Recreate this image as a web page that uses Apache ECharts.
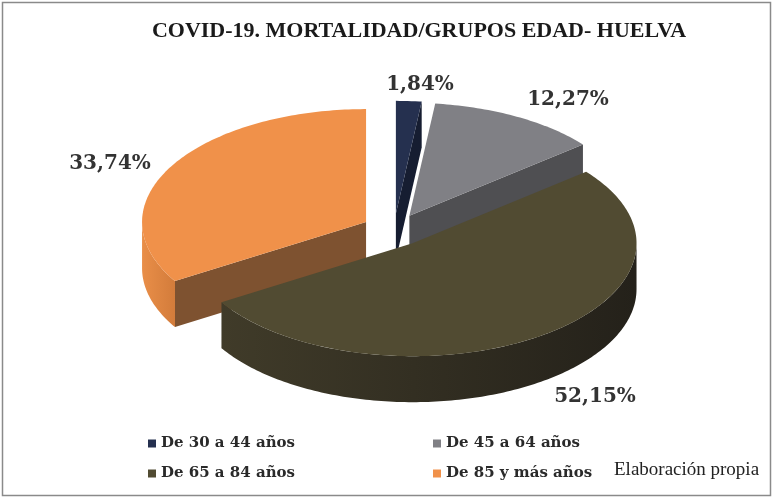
<!DOCTYPE html>
<html>
<head>
<meta charset="utf-8">
<script src="https://cdn.jsdelivr.net/npm/echarts@6/dist/echarts.min.js"></script>
<style>
  html, body { margin: 0; padding: 0; background: #fff; }
  #main { width: 774px; height: 501px; }
</style>
</head>
<body>
<div id="main"></div>
<script>
// datos
var categories = ['De 30 a 44 años', 'De 45 a 64 años', 'De 65 a 84 años', 'De 85 y más años'];
var values = [1.84, 12.27, 52.15, 33.74];

// colores: cara superior, paredes
var topColors = ['#25304f', '#808085', '#514b32', '#f0914a'];
var cutColors = ['#161d31', '#4f4f52', '#2f2b1d', '#7e5230'];
var wallColors = [['#1c2540', '#141a2d'], ['#5a5a5e', '#444447'], ['#403b29', '#24211a'], ['#e98e48', '#d37c3b']];
// posicion de las etiquetas (px)
var labelPos = [[420, 85], [568, 100], [595, 397], [110, 164]];

// geometria de la tarta 3D
var cx = 394, cy = 230, R = 224, r = 113, h = 46, explode = 0.143;
var drawOrder = [0, 1, 3, 2];

var total = values.reduce(function (s, v) { return s + v; }, 0);
var angles = [];
var acc = 0;
values.forEach(function (v) {
    angles.push([acc / total * 360, (acc + v) / total * 360]);
    acc += v;
});

function pt(deg, rho, off, dz) {
    var t = deg * Math.PI / 180;
    return [cx + off[0] + rho * R * Math.sin(t), cy + off[1] - rho * r * Math.cos(t) + dz];
}
function arc(a, b, off, dz) {
    var pts = [];
    for (var d = a; d < b; d += 1) pts.push(pt(d, 1, off, dz));
    pts.push(pt(b, 1, off, dz));
    return pts;
}

function makeRender(i) {
    return function (params, api) {
        var a = angles[i][0], b = angles[i][1];
        var mid = (a + b) / 2 * Math.PI / 180;
        var off = [explode * R * Math.sin(mid), -explode * r * Math.cos(mid)];
        var apex = pt(0, 0, off, 0);
        var apexB = pt(0, 0, off, h);
        var children = [];
        // cara de corte inicial
        if (Math.sin(a * Math.PI / 180) < -0.01) {
            var e1 = pt(a, 1, off, 0);
            children.push({ type: 'polygon', shape: { points: [apex, e1, [e1[0], e1[1] + h], apexB] },
                style: { fill: cutColors[i] } });
        }
        // cara de corte final
        if (Math.sin(b * Math.PI / 180) > 0.01) {
            var e2 = pt(b, 1, off, 0);
            children.push({ type: 'polygon', shape: { points: [apex, e2, [e2[0], e2[1] + h], apexB] },
                style: { fill: cutColors[i] } });
        }
        // pared exterior visible
        var wa = Math.max(a, 90), wb = Math.min(b, 270);
        if (wb > wa) {
            var top = arc(wa, wb, off, 0);
            var bot = arc(wa, wb, off, h).reverse();
            children.push({ type: 'polygon', shape: { points: top.concat(bot) },
                style: { fill: new echarts.graphic.LinearGradient(0, 0, 1, 0, [
                    { offset: 0, color: wallColors[i][0] }, { offset: 1, color: wallColors[i][1] }]) } });
        }
        // cara superior
        children.push({ type: 'polygon', shape: { points: [apex].concat(arc(a, b, off, 0)) },
            style: { fill: topColors[i] } });
        // etiqueta
        children.push({ type: 'text', z2: 10, style: {
            text: values[i].toFixed(2).replace('.', ',') + '%',
            x: labelPos[i][0], y: labelPos[i][1], align: 'center', verticalAlign: 'middle',
            fill: '#333', font: 'bold 20px "DejaVu Serif"' } });
        return { type: 'group', children: children };
    };
}

var chart = echarts.init(document.getElementById('main'));
var legendText = { color: '#2a2a2a', fontFamily: 'DejaVu Serif', fontWeight: 'bold', fontSize: 15 };

chart.setOption({
    backgroundColor: '#fff',
    animation: false,
    title: {
        text: 'COVID-19. MORTALIDAD/GRUPOS EDAD- HUELVA',
        left: 414, top: 15, textAlign: 'center',
        textStyle: { fontFamily: 'Liberation Serif', fontWeight: 'bold', fontSize: 22, color: '#1a1a1a' }
    },
    legend: [
        { data: [categories[0], categories[1]], left: 143, top: 431, itemWidth: 8, itemHeight: 8, itemGap: 138,
          icon: 'rect', selectedMode: false, textStyle: legendText },
        { data: [categories[2], categories[3]], left: 143, top: 461, itemWidth: 8, itemHeight: 8, itemGap: 138,
          icon: 'rect', selectedMode: false, textStyle: legendText }
    ],
    graphic: [
        { type: 'rect', shape: { x: 2.5, y: 2.5, width: 768, height: 493 }, style: { fill: 'none', stroke: '#8a8a8a', lineWidth: 1.5 } },
        { type: 'text', left: 614, top: 461, style: { text: 'Elaboración propia', fill: '#222', font: '19px "Liberation Serif"' } }
    ],
    series: drawOrder.map(function (i) {
        return {
            type: 'custom',
            name: categories[i],
            coordinateSystem: 'none',
            itemStyle: { color: topColors[i] },
            data: [values[i]],
            renderItem: makeRender(i)
        };
    })
});
</script>
</body>
</html>
